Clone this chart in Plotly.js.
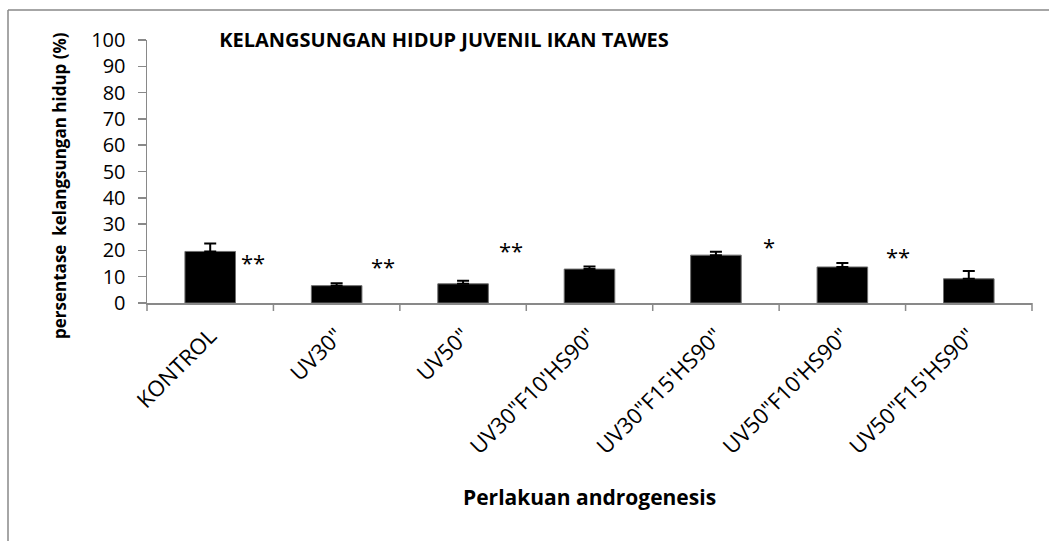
<!DOCTYPE html>
<html>
<head>
<meta charset="utf-8">
<script src="https://cdn.plot.ly/plotly-3.0.1.min.js"></script>
<style>html,body{margin:0;padding:0;background:#fff;}#chart{width:1049px;height:541px;}</style>
</head>
<body>
<div id="chart"></div>
<script>
const categories = ["KONTROL", "UV30\"", "UV50\"", "UV30\"F10'HS90\"", "UV30\"F15'HS90\"", "UV50\"F10'HS90\"", "UV50\"F15'HS90\""];
const survival = [19.6, 6.6, 7.3, 12.9, 18.2, 13.7, 9.2];
const errorPlus = [3.0, 0.9, 1.2, 1.0, 1.3, 1.5, 3.0];
const markTexts = ["**", "**", "**", "*", "**"];
const markX = [0.34, 1.37, 2.38, 4.42, 5.44];
const markY = [15.7, 13.9, 20.3, 21.8, 18.0];
const yTicks = [0, 10, 20, 30, 40, 50, 60, 70, 80, 90, 100];

const FONT = "Open Sans, Liberation Sans, sans-serif";
const GRAY = "#898989";

const trace = {
  type: "bar",
  x: categories,
  y: survival,
  width: 0.4,
  marker: {color: "#000000", line: {color: "#6e6e6e", width: 1}},
  error_y: {type: "data", symmetric: false, array: errorPlus, arrayminus: errorPlus.map(() => 0), color: "#000000", thickness: 2, width: 6},
  hoverinfo: "x+y"
};

const annotations = markTexts.map((t, i) => ({
  x: markX[i], y: markY[i], xref: "x", yref: "y",
  text: t, showarrow: false, xanchor: "center", yanchor: "middle",
  font: {family: FONT, size: 22, color: "#000"}
}));
annotations.push({
  xref: "paper", yref: "paper",
  x: (60 - 147) / 885, y: (303.5 - 186) / 264,
  text: "<b>persentase\u00a0 kelangsungan hidup (%)</b>",
  textangle: -90, showarrow: false, xanchor: "center", yanchor: "middle",
  font: {family: FONT, size: 17, color: "#000"}
});
annotations.push({
  xref: "paper", yref: "paper",
  x: 0.5, y: (303.5 - 498) / 264,
  text: "<b>Perlakuan androgenesis</b>",
  showarrow: false, xanchor: "center", yanchor: "middle",
  font: {family: FONT, size: 21, color: "#000"}
});

const layout = {
  width: 1049, height: 541,
  paper_bgcolor: "#ffffff", plot_bgcolor: "#ffffff",
  margin: {l: 147, r: 17, t: 39.5, b: 237.5},
  showlegend: false,
  title: {
    text: "<b>KELANGSUNGAN HIDUP JUVENIL IKAN TAWES</b>",
    xref: "container", yref: "container", x: 444 / 1049, y: 1 - 40 / 541,
    xanchor: "center", yanchor: "middle",
    font: {family: FONT, size: 20, color: "#000"}
  },
  xaxis: {
    type: "category",
    tickangle: -45,
    tickfont: {family: FONT, size: 22, color: "#000"},
    ticklabelstandoff: 10,
    showline: true, linecolor: GRAY, linewidth: 1.5,
    ticks: "", showgrid: false, zeroline: false,
    automargin: false
  },
  yaxis: {
    range: [0, 100],
    tickvals: yTicks,
    tickfont: {family: FONT, size: 20, color: "#000"},
    ticklabelstandoff: 8,
    showline: true, linecolor: GRAY, linewidth: 1.5,
    ticks: "outside", ticklen: 8, tickcolor: GRAY, tickwidth: 1.5,
    showgrid: false, zeroline: false,
    automargin: false
  },
  shapes: [
    {type: "line", xref: "paper", yref: "paper", x0: (8 - 147) / 885, x1: (8 - 147) / 885, y0: (303.5 - 9.3) / 264, y1: -2, line: {color: GRAY, width: 1.5}},
    {type: "line", xref: "paper", yref: "paper", x0: (8 - 147) / 885, x1: 1.2, y0: (303.5 - 9.3) / 264, y1: (303.5 - 9.3) / 264, line: {color: GRAY, width: 1.5}}
  ],
  annotations: annotations
};

// category boundary tick marks below x axis
for (let k = 0; k <= categories.length; k++) {
  const px = k / categories.length;
  layout.shapes.push({type: "line", xref: "paper", yref: "paper", x0: px, x1: px, y0: 0, y1: -8 / 264, line: {color: GRAY, width: 1.5}});
}

Plotly.newPlot("chart", [trace], layout, {displayModeBar: false, staticPlot: true});
</script>
</body>
</html>
